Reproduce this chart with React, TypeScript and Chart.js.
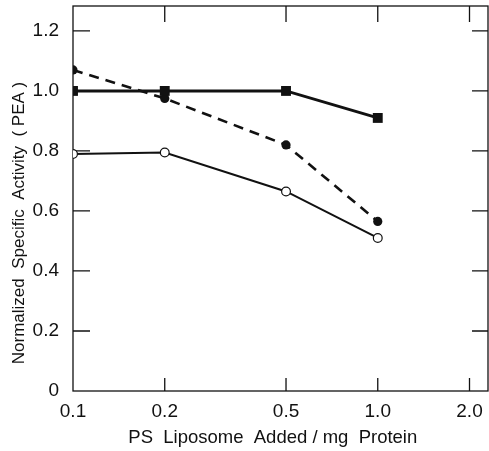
import { useEffect, useRef } from 'react';
import { Chart, registerables } from 'chart.js';

Chart.register(...registerables);

// ---- data ----
const xDoses = [0.1, 0.2, 0.5, 1.0];
const squareValues = [1.0, 1.0, 1.0, 0.91];
const filledCircleValues = [1.07, 0.975, 0.82, 0.565];
const openCircleValues = [0.79, 0.795, 0.665, 0.51];

const xTickValues = [0.1, 0.2, 0.5, 1.0, 2.0];
const xTickLabels = ['0.1', '0.2', '0.5', '1.0', '2.0'];
const yTickValues = [0, 0.2, 0.4, 0.6, 0.8, 1.0, 1.2];
const yTickLabels = ['0', '0.2', '0.4', '0.6', '0.8', '1.0', '1.2'];

const xTitle = 'PS  Liposome  Added / mg  Protein';
const yTitle = 'Normalized  Specific  Activity  ( PEA )';

const X_MIN = 0.1;
const X_MAX = 2.3;
const Y_MIN = 0;
const Y_MAX = 1.283;

const INK = '#111111';
const FONT = "'Liberation Sans', Arial, sans-serif";

const toPoints = (ys: number[]) => xDoses.map((x, i) => ({ x, y: ys[i] }));

const zeroPadding = (scale: any) => {
  scale.paddingTop = 0;
  scale.paddingBottom = 0;
  scale.paddingLeft = 0;
  scale.paddingRight = 0;
};

const framePlugin = {
  id: 'frameTicks',
  beforeDatasetsDraw(chart: any) {
    const { ctx, chartArea, scales } = chart;
    const { left, right, top, bottom } = chartArea;
    const x = scales.x;
    const y = scales.y;
    ctx.save();
    ctx.strokeStyle = INK;
    ctx.lineWidth = 1.3;
    ctx.strokeRect(left, top, right - left, bottom - top);
    ctx.beginPath();
    xTickValues.forEach((v) => {
      if (v <= X_MIN) return;
      const px = x.getPixelForValue(v);
      ctx.moveTo(px, bottom);
      ctx.lineTo(px, bottom - 13);
      ctx.moveTo(px, top);
      ctx.lineTo(px, top + 16);
    });
    yTickValues.forEach((v) => {
      if (v <= Y_MIN) return;
      const py = y.getPixelForValue(v);
      ctx.moveTo(left, py);
      ctx.lineTo(left + 17, py);
      ctx.moveTo(right, py);
      ctx.lineTo(right - 16, py);
    });
    ctx.stroke();
    // y axis title
    ctx.fillStyle = INK;
    ctx.font = `17px ${FONT}`;
    ctx.textAlign = 'center';
    ctx.textBaseline = 'middle';
    ctx.translate(19, 223);
    ctx.rotate(-Math.PI / 2);
    ctx.fillText(yTitle, 0, 0);
    ctx.restore();
  },
};

export default function App() {
  const canvasRef = useRef<HTMLCanvasElement | null>(null);

  useEffect(() => {
    const canvas = canvasRef.current;
    if (!canvas) return;
    const chart = new Chart(canvas, {
      type: 'line',
      data: {
        datasets: [
          {
            label: 'squares',
            data: toPoints(squareValues),
            borderColor: INK,
            backgroundColor: INK,
            borderWidth: 3,
            pointStyle: 'rect',
            pointRadius: 7,
            pointBackgroundColor: INK,
            pointBorderColor: INK,
            pointBorderWidth: 0,
          },
          {
            label: 'filled circles',
            data: toPoints(filledCircleValues),
            borderColor: INK,
            backgroundColor: INK,
            borderWidth: 2.6,
            borderDash: [10, 7],
            pointStyle: 'circle',
            pointRadius: 4.6,
            pointBackgroundColor: INK,
            pointBorderColor: INK,
            pointBorderWidth: 0,
          },
          {
            label: 'open circles',
            data: toPoints(openCircleValues),
            borderColor: INK,
            backgroundColor: '#ffffff',
            borderWidth: 2,
            pointStyle: 'circle',
            pointRadius: 4.4,
            pointBackgroundColor: '#ffffff',
            pointBorderColor: INK,
            pointBorderWidth: 1.2,
          },
        ],
      },
      options: {
        responsive: false,
        animation: false,
        layout: { autoPadding: false, padding: { top: 6, right: 1, left: 0, bottom: 0 } },
        plugins: {
          legend: { display: false },
          tooltip: { enabled: false },
        },
        scales: {
          x: {
            type: 'logarithmic',
            min: X_MIN,
            max: X_MAX,
            grid: { display: false },
            border: { display: false },
            afterFit: (scale: any) => {
              scale.height = 60;
              zeroPadding(scale);
            },
            afterBuildTicks: (scale: any) => {
              scale.ticks = xTickValues.map((v) => ({ value: v }));
            },
            ticks: {
              autoSkip: false,
              maxRotation: 0,
              padding: 1,
              color: INK,
              font: { family: FONT, size: 19 },
              callback: (v: any) => {
                const i = xTickValues.indexOf(Number(v));
                return i >= 0 ? xTickLabels[i] : '';
              },
            },
            title: {
              display: true,
              text: xTitle + '   ',
              color: INK,
              padding: { top: 0, bottom: 2 },
              font: { family: FONT, size: 18.5 },
            },
          },
          y: {
            type: 'linear',
            min: Y_MIN,
            max: Y_MAX,
            grid: { display: false },
            border: { display: false },
            afterFit: (scale: any) => {
              scale.width = 73;
              zeroPadding(scale);
            },
            afterBuildTicks: (scale: any) => {
              scale.ticks = yTickValues.map((v) => ({ value: v }));
            },
            ticks: {
              autoSkip: false,
              padding: 6,
              color: INK,
              font: { family: FONT, size: 19 },
              callback: (v: any) => {
                const i = yTickValues.findIndex((t) => Math.abs(t - Number(v)) < 1e-9);
                return i >= 0 ? yTickLabels[i] : '';
              },
            },
          },
        },
      },
      plugins: [framePlugin],
    });
    return () => chart.destroy();
  }, []);

  return (
    <canvas
      ref={canvasRef}
      width={489}
      height={451}
      style={{ position: 'absolute', left: 0, top: 0, width: 489, height: 451, display: 'block' }}
    />
  );
}
